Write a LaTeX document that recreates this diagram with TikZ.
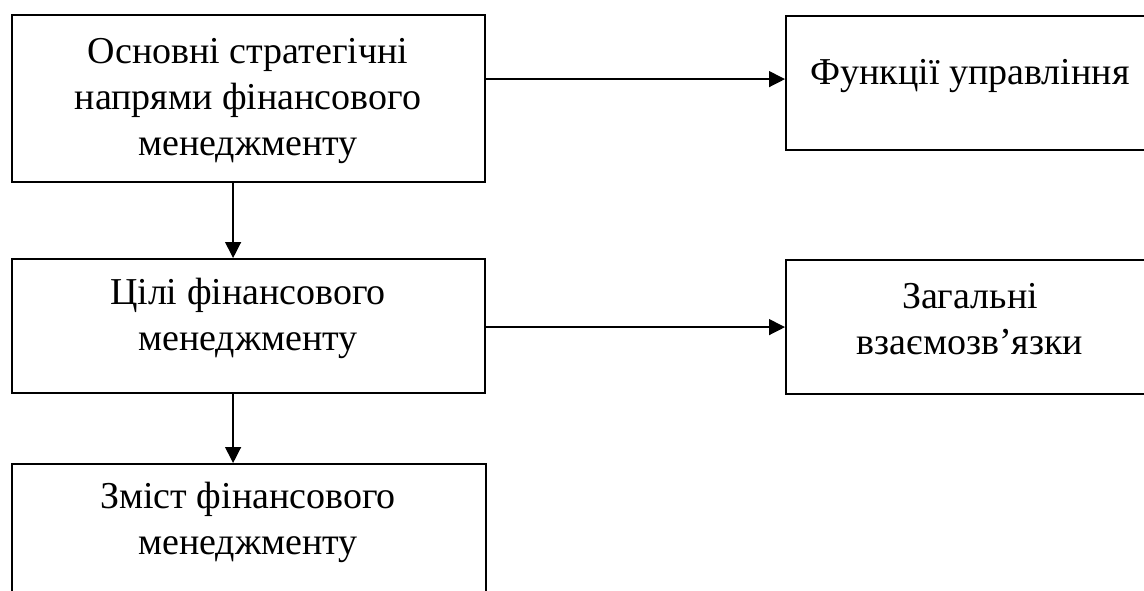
\documentclass[tikz,border=0pt]{standalone}
\usepackage{fontspec}
\setmainfont{Liberation Serif}
\usetikzlibrary{arrows.meta}
\begin{document}
\begin{tikzpicture}[x=1pt,y=-1pt,>={Triangle[length=16pt,width=16pt]},
    font=\fontsize{38}{46}\selectfont,
    blk/.style={draw,line width=2.2pt,inner sep=0pt,anchor=north west},
    txt/.style={align=center,inner sep=0pt},
    arr/.style={->,line width=1.3pt}]
    \useasboundingbox (0,0) rectangle (1144,591);
    \clip (0,0) rectangle (1144,591);
    % blocks
    \node[blk,minimum width=473pt,minimum height=167pt] (dir) at (11,14) {};
    \node[blk,minimum width=370pt,minimum height=134pt] (fun) at (785,15) {};
    \node[blk,minimum width=473pt,minimum height=134pt] (goal) at (11,258) {};
    \node[blk,minimum width=370pt,minimum height=134pt] (link) at (785,259) {};
    \node[blk,minimum width=474pt,minimum height=140pt] (con) at (11,463) {};
    % texts
    \node[txt] (dirtxt) at (248,101) {Основні стратегічні\\напрями фінансового\\менеджменту};
    \node[txt] (funtxt) at (970,76) {Функції управління};
    \node[txt] (goaltxt) at (248,318) {Цілі фінансового\\менеджменту};
    \node[txt] (linktxt) at (970,319) {Загальні\\взаємозв’язки};
    \node[txt] (contxt) at (248,522) {Зміст фінансового\\менеджменту};
    % arrows
    \coordinate (fa) at ([yshift=4pt]fun.west);
    \coordinate (va) at ([xshift=-15.5pt]dir.south);
    \draw[arr] (dir.east |- fa) -- (fa);
    \draw[arr] (goal.east |- link.west) -- (link.west);
    \draw[arr] (va) -- (va |- goal.north);
    \draw[arr] (va |- goal.south) -- (va |- con.north);
\end{tikzpicture}
\end{document}
